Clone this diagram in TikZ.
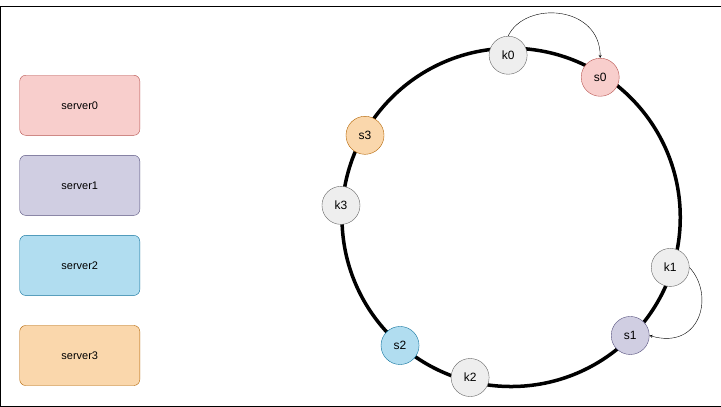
\documentclass[tikz,border=0pt]{standalone}
\usepackage{fontspec}
\setmainfont{Liberation Sans}
\definecolor{r0f}{HTML}{F8CECC}\definecolor{r0s}{HTML}{B85450}
\definecolor{r1f}{HTML}{D0CEE2}\definecolor{r1s}{HTML}{56517E}
\definecolor{r2f}{HTML}{B1DDF0}\definecolor{r2s}{HTML}{10739E}
\definecolor{r3f}{HTML}{FAD7AC}\definecolor{r3s}{HTML}{B46504}
\definecolor{gf}{HTML}{EEEEEE}\definecolor{gs}{HTML}{666666}
\begin{document}
\begin{tikzpicture}[x=1pt,y=-1pt,
  srv/.style={rounded corners=6pt,minimum width=120pt,minimum height=60pt,font=\fontsize{11}{13}\selectfont},
  dot/.style={circle,minimum size=38pt,inner sep=0pt,font=\fontsize{12}{14}\selectfont},
  key/.style={dot,fill=gf,draw=gs},
  arr/.style={->,>=stealth,thin}]
\draw[black,fill=white] (0.5,0.5) rectangle (720.5,400.5);
\node[srv,fill=r0f,draw=r0s] (server0) at (80,100) {server0};
\node[srv,fill=r1f,draw=r1s] (server1) at (80,180) {server1};
\node[srv,fill=r2f,draw=r2s] (server2) at (80,260) {server2};
\node[srv,fill=r3f,draw=r3s] (server3) at (80,350) {server3};
\draw[line width=3.5pt] (511,212) circle (169);
\node[key] (k0) at (508,50) {k0};
\node[dot,fill=r0f,draw=r0s] (s0) at (600,72) {s0};
\node[key] (k1) at (670,262) {k1};
\node[dot,fill=r1f,draw=r1s] (s1) at (630,330) {s1};
\node[key] (k2) at (470,372) {k2};
\node[dot,fill=r2f,draw=r2s] (s2) at (400,340) {s2};
\node[key] (k3) at (341,200) {k3};
\node[dot,fill=r3f,draw=r3s] (s3) at (365,130) {s3};
\draw[arr] (k0.north) .. controls (525,-5) and (600,0) .. (s0.north);
\draw[arr] (k1.east) .. controls (715,290) and (700,345) .. (s1.east);
\end{tikzpicture}
\end{document}
